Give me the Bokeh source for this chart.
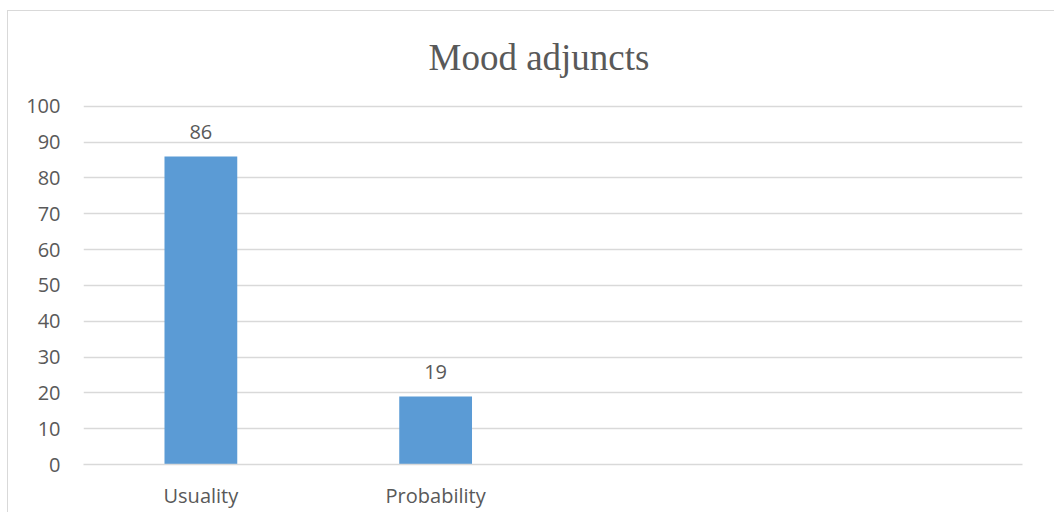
from bokeh.plotting import figure
from bokeh.models import ColumnDataSource, FactorRange, Range1d, SingleIntervalTicker, LabelSet, Title
from bokeh.core.properties import value
from bokeh.embed import file_html
from bokeh.resources import INLINE

categories = ["Usuality", "Probability", " ", "  "]
values = [86, 19, None, None]
labels = ["86", "19", "", ""]

TXT = "#595959"
GRID = "#d9d9d9"
BAR = "#5b9bd5"
FONT = "Open Sans"

src = ColumnDataSource(dict(cat=categories[:2], val=values[:2], lab=labels[:2]))

p = figure(x_range=FactorRange(*categories, range_padding=0), y_range=Range1d(0, 100.5),
           width=1054, height=512, output_backend="svg", toolbar_location=None,
           min_border_left=83, min_border_right=32, min_border_top=104, min_border_bottom=48)
p.styles = {"box-shadow": "inset 7px 10px 0 0 white, inset 8px 11px 0 0 #d9d9d9"}

p.title = Title(text="Mood adjuncts", align="left", offset=345, text_font="Liberation Serif",
                text_font_size="37px", text_font_style="normal", text_color=TXT, standoff=54)

p.vbar(x="cat", top="val", width=0.31, source=src, fill_color=BAR, line_color=None)

p.add_layout(LabelSet(x="cat", y="val", text="lab", source=src, text_align="center",
                      text_baseline="bottom", y_offset=17, text_font_size=value("20px"),
                      text_font=value(FONT), text_color=TXT))

p.outline_line_color = None
p.xgrid.grid_line_color = None
p.ygrid.grid_line_color = GRID
p.ygrid.grid_line_width = 1.5
p.yaxis.ticker = SingleIntervalTicker(interval=10)
for ax in (p.xaxis, p.yaxis):
    ax.axis_line_color = None
    ax.major_tick_line_color = None
    ax.minor_tick_line_color = None
    ax.major_label_text_font = FONT
    ax.major_label_text_font_size = "20px"
    ax.major_label_text_color = TXT
p.xaxis.axis_line_color = GRID
p.xaxis.axis_line_width = 1.5
p.yaxis.major_label_standoff = 17
p.xaxis.major_label_standoff = 11
p.background_fill_color = "white"
p.border_fill_color = None

open("out.html", "w").write(file_html(p, INLINE))
